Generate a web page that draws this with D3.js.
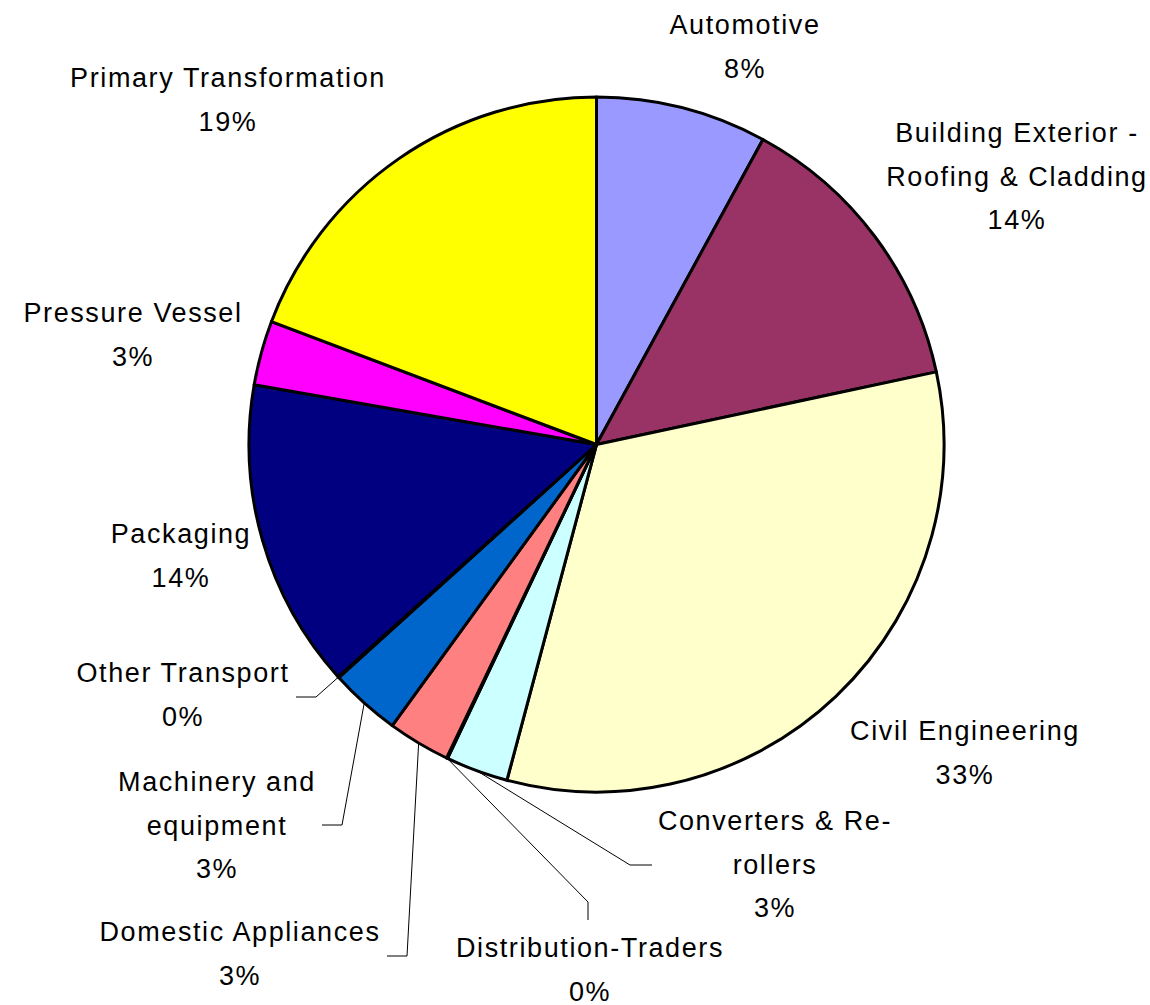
<!DOCTYPE html>
<html>
<head>
<meta charset="utf-8">
<title>Steel use by sector</title>
<script src="https://d3js.org/d3.v7.min.js"></script>
<style>
  body { margin: 0; background: #fff; }
  .lbl { font-family: "Liberation Sans", Arial, sans-serif; font-size: 27px; letter-spacing: 1.6px; fill: #000; }
  .slice { stroke: #000; stroke-width: 3px; stroke-linejoin: round; }
  .leader { fill: none; stroke: #000; stroke-width: 1px; }
</style>
</head>
<body>
<script>
// data (share of total, %)
var sectors = ["Automotive", "Building Exterior - Roofing & Cladding", "Civil Engineering",
  "Converters & Re-rollers", "Distribution-Traders", "Domestic Appliances",
  "Machinery and equipment", "Other Transport", "Packaging", "Pressure Vessel",
  "Primary Transformation"];
var shares = [7.95, 13.7, 32.5, 2.9, 0.05, 2.9, 3.3, 0.05, 14.4, 3.0, 19.25];
var colours = ["#9999FF", "#993366", "#FFFFCC", "#CCFFFF", "#660066", "#FF8080",
  "#0066CC", "#CCCCFF", "#000080", "#FF00FF", "#FFFF00"];
// how each category name is broken over lines in its label
var labelLines = [["Automotive"], ["Building Exterior  -", "Roofing & Cladding"], ["Civil Engineering"],
  ["Converters & Re-", "rollers"], ["Distribution-Traders"], ["Domestic Appliances"],
  ["Machinery and", "equipment"], ["Other Transport"], ["Packaging"], ["Pressure Vessel"],
  ["Primary Transformation"]];

// layout: label anchor (centre x, first baseline y) and leader elbow/end
var labelPos = [[745, 34], [1017, 142], [965, 740], [775, 830], [590, 957], [240, 941],
  [217, 791], [183, 682], [181, 543], [133, 322], [228, 87]];
var leaders = {3: [[630, 865], [652, 865]], 4: [[588, 902], [588, 920]],
  5: [[407, 956], [387, 956]], 6: [[342, 825], [322, 825]], 7: [[316, 697], [296, 697]]};

var W = 1150, H = 1005, cx = 596.5, cy = 444.5, R = 347.5, lineH = 43.5;

var svg = d3.select("body").append("svg").attr("width", W).attr("height", H);
var g = svg.append("g").attr("transform", "translate(" + cx + "," + cy + ")");

var pie = d3.pie().sort(null).value(function(d) { return d; });
var arcs = pie(shares);
var arc = d3.arc().innerRadius(0).outerRadius(R);

g.selectAll("path.slice").data(arcs).enter().append("path")
  .attr("class", "slice")
  .attr("d", arc)
  .attr("fill", function(d, i) { return colours[i]; });

// leader lines from the middle of the slice's outer edge
Object.keys(leaders).forEach(function(k) {
  var i = +k, a = (arcs[i].startAngle + arcs[i].endAngle) / 2;
  var p0 = [cx + R * Math.sin(a), cy - R * Math.cos(a)];
  var pts = [p0].concat(leaders[k]);
  svg.append("path").attr("class", "leader").attr("d", d3.line()(pts));
});

// labels
sectors.forEach(function(name, i) {
  var t = svg.append("text").attr("class", "lbl")
    .attr("text-anchor", "middle")
    .attr("x", labelPos[i][0]).attr("y", labelPos[i][1]);
  var lines = labelLines[i].concat([Math.round(shares[i]) + "%"]);
  lines.forEach(function(s, j) {
    t.append("tspan").attr("x", labelPos[i][0]).attr("dy", j === 0 ? 0 : lineH).text(s);
  });
});
</script>
</body>
</html>
